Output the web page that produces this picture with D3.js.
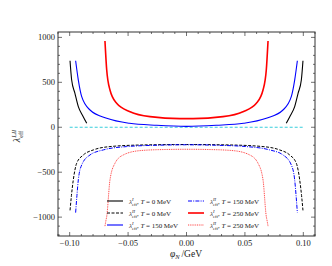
<!DOCTYPE html>
<html>
<head>
<meta charset="utf-8">
<script src="https://cdn.jsdelivr.net/npm/d3@7"></script>
<style>
  body { margin: 0; background: #fff; }
  svg text { font-family: 'Liberation Serif', 'DejaVu Serif', serif; fill: #222; }
</style>
</head>
<body>
<div class="wrapper"></div>
<script>
// values (phi in GeV)
const phiBlackI = [-0.0997, -0.0983, -0.0955, -0.0926, -0.0884, -0.0854, 0.0854, 0.0884, 0.0926, 0.0955, 0.0983, 0.0997]
const valBlackI = [741, 526, 377, 229, 118, 44, 44, 118, 229, 377, 526, 741]

const phiBlackII = [-0.0997, -0.0985, -0.0969, -0.0940, -0.0883, -0.0797, -0.0655, -0.0372, 0, 0.0372, 0.0655, 0.0797, 0.0883, 0.0940, 0.0969, 0.0985, 0.0997]
const valBlackII = [-925, -760, -585, -400, -308, -252, -215, -197, -192, -197, -215, -252, -308, -400, -585, -760, -925]

const phiBlueI = [-0.0949, -0.0926, -0.0897, -0.0826, -0.0683, -0.0488, -0.0255, 0, 0.0255, 0.0488, 0.0683, 0.0826, 0.0897, 0.0926, 0.0949]
const valBlueI = [740, 525, 340, 192, 100, 44, 22, 10, 22, 44, 100, 192, 340, 525, 740]

const phiBlueII = [-0.0949, -0.0938, -0.0926, -0.0897, -0.0826, -0.0712, -0.0512, -0.0250, 0, 0.0250, 0.0512, 0.0712, 0.0826, 0.0897, 0.0926, 0.0938, 0.0949]
const valBlueII = [-950, -760, -585, -419, -308, -252, -215, -200, -195, -200, -215, -252, -308, -419, -585, -760, -950]

const phiRedI = [-0.0698, -0.0683, -0.0655, -0.0598, -0.0483, -0.0312, -0.0056, 0.0056, 0.0312, 0.0483, 0.0598, 0.0655, 0.0683, 0.0698]
const valRedI = [960, 637, 414, 266, 173, 118, 96, 96, 118, 173, 266, 414, 637, 960]

const phiRedII = [-0.0698, -0.0690, -0.0683, -0.0655, -0.0612, -0.0541, -0.0398, -0.0200, 0, 0.0200, 0.0398, 0.0541, 0.0612, 0.0655, 0.0683, 0.0690, 0.0698]
const valRedII = [-1100, -1040, -993, -585, -400, -308, -260, -248, -245, -248, -260, -308, -400, -585, -993, -1040, -1100]

const phiZero = [-0.1, 0.1]
const valZero = [0, 0]

const xTicks = [-0.10, -0.05, 0.00, 0.05, 0.10]
const yTicks = [-1000, -500, 0, 500, 1000]

const width = 332, height = 266
const margin = { top: 32, right: 17, bottom: 30, left: 58 }

const svg = d3.select('.wrapper')
  .append('svg')
  .attr('width', width)
  .attr('height', height)

const x = d3.scaleLinear()
  .domain([-0.11, 0.11])
  .range([margin.left, width - margin.right])

const y = d3.scaleLinear()
  .domain([-1210, 1060])
  .range([height - margin.bottom, margin.top])

const fmtX = d => d3.format('.2f')(d).replace('-', '\u2212')
const fmtY = d => String(d).replace('-', '\u2212')

// minor + major ticks, inside, on all four sides
const xMinor = d3.range(-0.11, 0.1101, 0.01)
const yMinor = d3.range(-1200, 1061, 100)

const axes = svg.append('g').attr('class', 'axes')
const x0 = margin.left, x1 = width - margin.right
const y0 = height - margin.bottom, y1 = margin.top

xMinor.forEach(t => {
  const big = xTicks.some(v => Math.abs(v - t) < 1e-6)
  const l = big ? 4 : 2
  axes.append('line').attr('x1', x(t)).attr('x2', x(t)).attr('y1', y0).attr('y2', y0 - l)
  axes.append('line').attr('x1', x(t)).attr('x2', x(t)).attr('y1', y1).attr('y2', y1 + l)
})
yMinor.forEach(t => {
  const big = yTicks.includes(Math.round(t))
  const l = big ? 4 : 2
  axes.append('line').attr('x1', x0).attr('x2', x0 + l).attr('y1', y(t)).attr('y2', y(t))
  axes.append('line').attr('x1', x1).attr('x2', x1 - l).attr('y1', y(t)).attr('y2', y(t))
})
axes.selectAll('line').attr('stroke', '#333').attr('stroke-width', 0.7)

axes.append('rect')
  .attr('x', x0).attr('y', y1)
  .attr('width', x1 - x0).attr('height', y0 - y1)
  .attr('fill', 'none').attr('stroke', '#333').attr('stroke-width', 1)

svg.append('g').selectAll('text')
  .data(xTicks)
  .enter().append('text')
  .attr('x', d => x(d))
  .attr('y', y0 + 9.5)
  .attr('text-anchor', 'middle')
  .attr('font-size', '8.5px')
  .text(fmtX)

svg.append('g').selectAll('text')
  .data(yTicks)
  .enter().append('text')
  .attr('x', x0 - 3)
  .attr('y', d => y(d) + 3)
  .attr('text-anchor', 'end')
  .attr('font-size', '8.5px')
  .text(fmtY)

// axis titles
const xt = svg.append('text')
  .attr('x', 186)
  .attr('y', 257)
  .attr('text-anchor', 'middle')
  .attr('font-size', '9.5px')
xt.append('tspan').attr('font-style', 'italic').text('\u03c6')
xt.append('tspan').attr('font-size', '6.5px').attr('font-style', 'italic').attr('dy', 2).text('N')
xt.append('tspan').attr('dy', -2).text('\u2009/GeV')

// lambda with stacked super/subscript; sub starts under the sup
function lambdaLabel(t, sup, size) {
  const small = size * 0.64
  t.append('tspan').attr('font-style', 'italic').text('\u03bb')
  const s = t.append('tspan').attr('font-size', small + 'px').attr('font-style', 'italic')
    .attr('dy', -size * 0.4).text(sup)
  const w = s.node().getComputedTextLength()
  const b = t.append('tspan').attr('font-size', small + 'px')
    .attr('dx', -w).attr('dy', size * 0.72).text('eff')
  const wb = b.node().getComputedTextLength()
  // continue after the wider of the two
  return { back: -size * 0.32, extra: Math.max(0, w - wb) }
}

const yt = svg.append('text')
  .attr('transform', 'translate(20, 136) rotate(-90)')
  .attr('text-anchor', 'middle')
  .attr('font-size', '10px')
lambdaLabel(yt, 'I,II', 10)

// curves
const series = [
  { phi: phiBlackI, val: valBlackI, color: '#000', w: 1.1, dash: null, name: 'I', T: 0 },
  { phi: phiBlackII, val: valBlackII, color: '#000', w: 1, dash: '3,1.5', name: 'II', T: 0 },
  { phi: phiBlueI, val: valBlueI, color: '#0000ff', w: 1.1, dash: null, name: 'I', T: 150 },
  { phi: phiBlueII, val: valBlueII, color: '#0000ff', w: 1, dash: '4,1.2,1,1.2', name: 'II', T: 150 },
  { phi: phiRedI, val: valRedI, color: '#ff0000', w: 1.6, dash: null, name: 'I', T: 250 },
  { phi: phiRedII, val: valRedII, color: '#ff3030', w: 0.9, dash: '1,0.8', name: 'II', T: 250 },
]

const line = d3.line()
  .x(d => x(d[0]))
  .y(d => y(d[1]))
  .curve(d3.curveMonotoneX)

svg.append('path')
  .attr('d', line(phiZero.map((p, i) => [p, valZero[i]])))
  .attr('fill', 'none')
  .attr('stroke', '#20c8d8')
  .attr('stroke-width', 0.9)
  .attr('stroke-dasharray', '3,2')

const plot = svg.append('g')
plot.selectAll('path.curve')
  .data(series)
  .enter().append('path')
  .attr('class', 'curve')
  .attr('d', s => {
    // black solid curve has a gap in the middle
    const pts = s.phi.map((p, i) => [p, s.val[i]])
    const left = pts.filter(d => d[0] < 0)
    const right = pts.filter(d => d[0] > 0)
    if (pts.some(d => d[0] === 0) || right[0][0] - left[left.length - 1][0] < 0.02) return line(pts)
    return line(left) + line(right)
  })
  .attr('fill', 'none')
  .attr('stroke', s => s.color)
  .attr('stroke-width', s => s.w)
  .attr('stroke-dasharray', s => s.dash)

// legend, two columns of three
const legend = svg.append('g').attr('class', 'legend')
series.forEach((s, i) => {
  const col = i < 3 ? 0 : 1
  const row = i % 3
  const lx = col === 0 ? 107 : 188
  const ly = 201 + row * 12
  legend.append('line')
    .attr('x1', lx).attr('x2', lx + 16)
    .attr('y1', ly).attr('y2', ly)
    .attr('stroke', s.color)
    .attr('stroke-width', s.w)
    .attr('stroke-dasharray', s.dash)
  const t = legend.append('text')
    .attr('x', lx + 22)
    .attr('y', ly + 2.5)
    .attr('font-size', '7px')
  const r = lambdaLabel(t, s.name, 7)
  t.append('tspan').attr('dx', r.extra).attr('dy', r.back).text(', ')
  t.append('tspan').attr('font-style', 'italic').text('T')
  t.append('tspan').text(' = ' + s.T + '\u2009MeV')
})
</script>
</body>
</html>
